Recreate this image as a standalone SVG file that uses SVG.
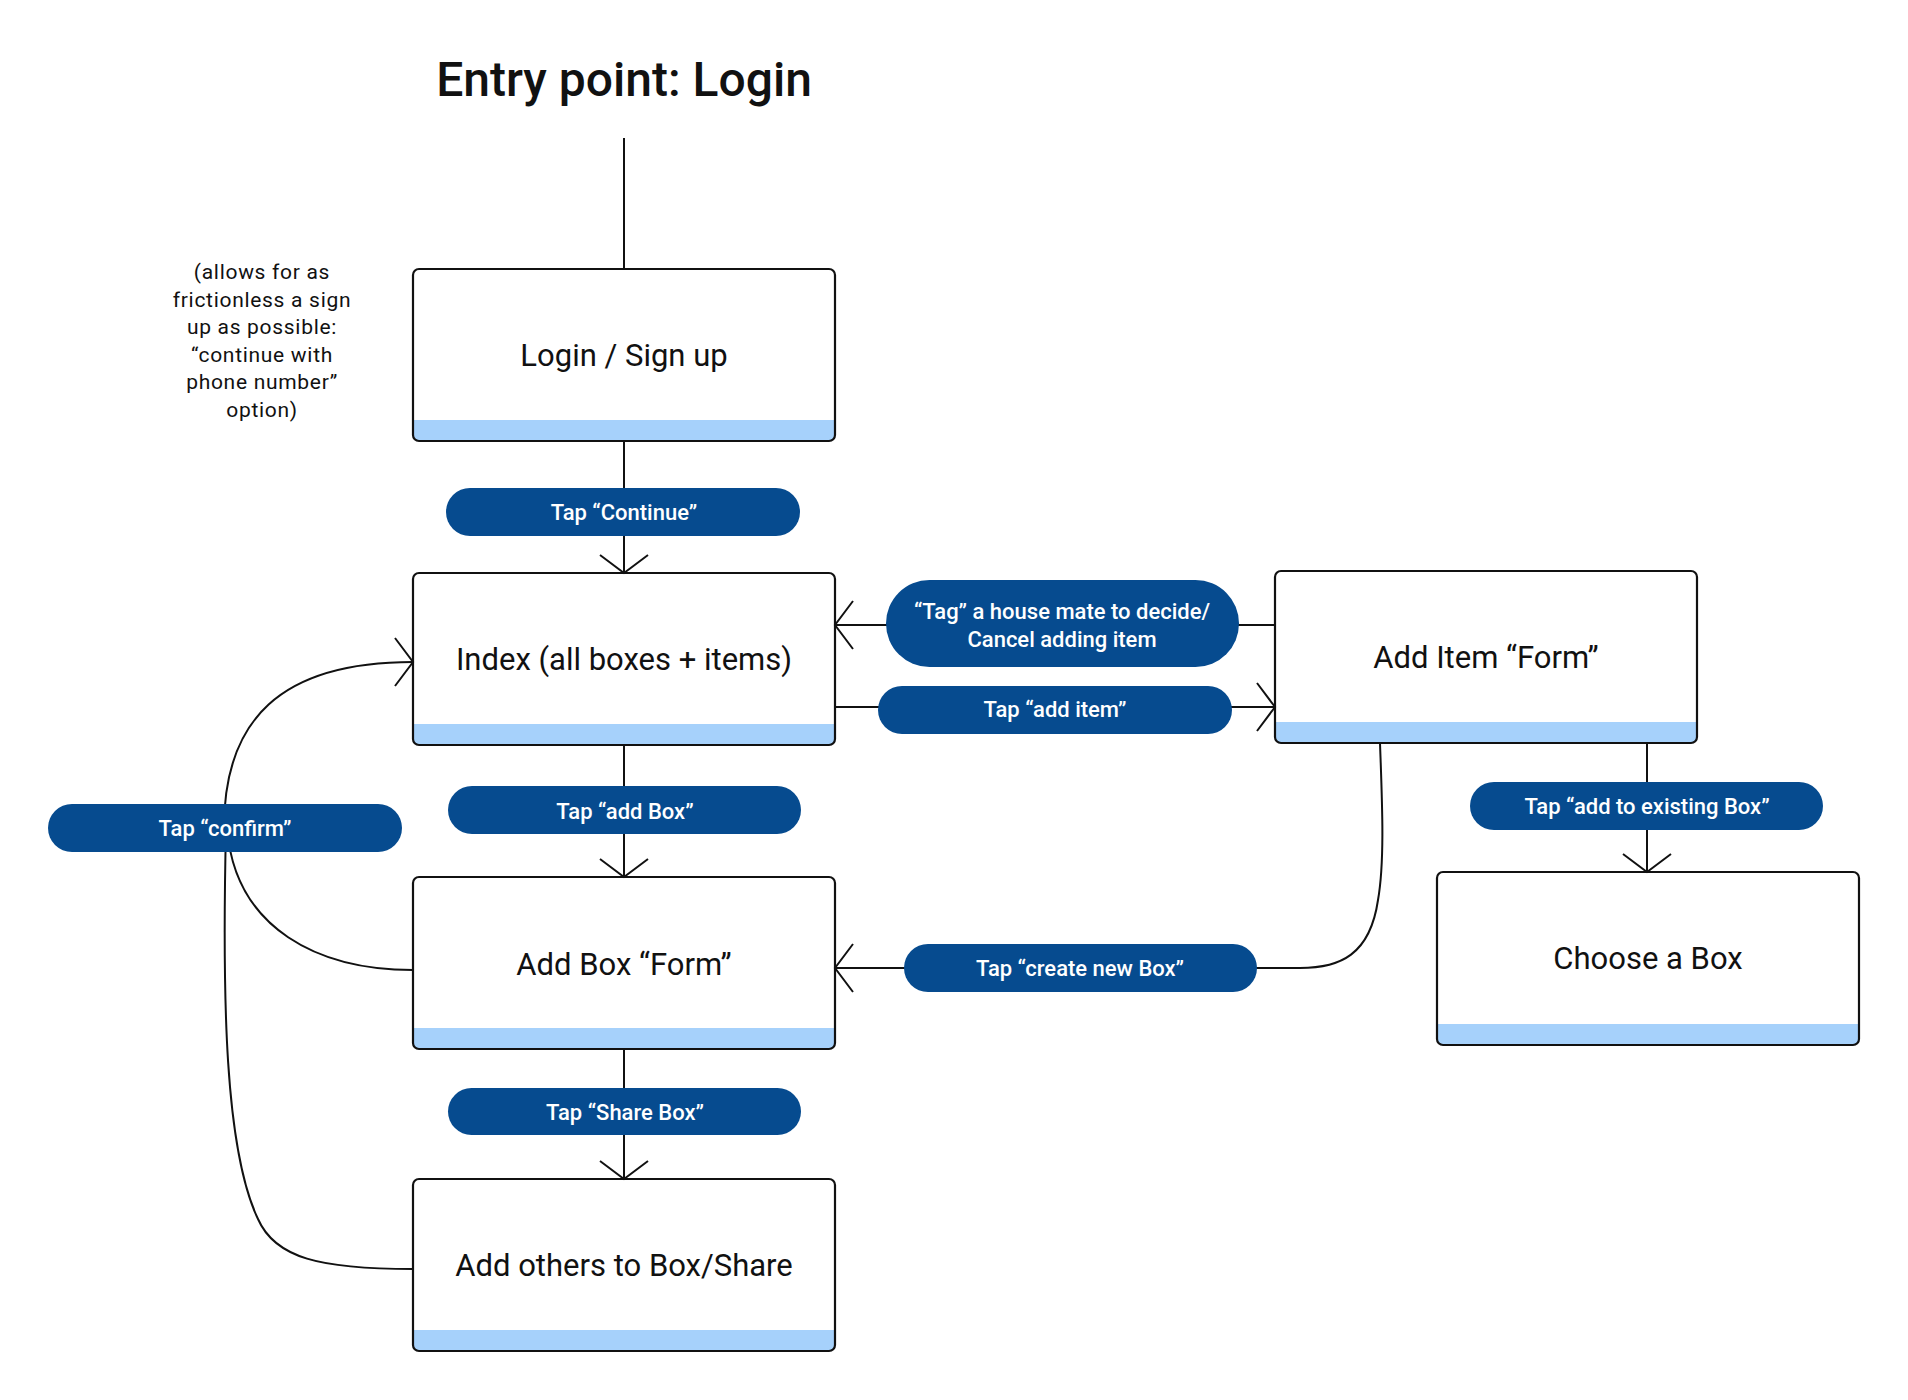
<svg xmlns="http://www.w3.org/2000/svg" width="1908" height="1400" viewBox="0 0 1908 1400">
  <defs>
    <style>
      .box { fill: #ffffff; stroke: none; }
      .frame { fill: none; stroke: #111111; stroke-width: 2.2; }
      .bar { fill: #a6d1fb; stroke: none; }
      .ntext { font-family: Roboto, "Liberation Sans", sans-serif; font-size: 31px; fill: #111111; text-anchor: middle; }
      .pill { fill: #064b8f; stroke: none; }
      .ptext { font-family: Roboto, "Liberation Sans", sans-serif; font-size: 22px; font-weight: 500; fill: #ffffff; text-anchor: middle; }
      .conn { fill: none; stroke: #111111; stroke-width: 2; }
      .note { font-family: Roboto, "Liberation Sans", sans-serif; font-size: 21px; fill: #111111; text-anchor: middle; letter-spacing: 0.7px; }
      .title { font-family: Roboto, "Liberation Sans", sans-serif; font-size: 48px; font-weight: 500; fill: #111111; text-anchor: middle; }
    </style>
    <marker id="arrow" markerUnits="userSpaceOnUse" viewBox="-22 -28 26 56" refX="0" refY="0" markerWidth="26" markerHeight="56" orient="auto" overflow="visible">
      <path d="M-18,-24 L0,0 L-18,24" fill="none" stroke="#111111" stroke-width="2"/>
    </marker>
  </defs>

  <rect x="0" y="0" width="1908" height="1400" fill="#ffffff"/>

  <text class="title" x="624" y="96">Entry point: Login</text>

  <g id="note">
    <text class="note" x="262" y="279">(allows for as</text>
    <text class="note" x="262" y="306.5">frictionless a sign</text>
    <text class="note" x="262" y="334">up as possible:</text>
    <text class="note" x="262" y="361.5">“continue with</text>
    <text class="note" x="262" y="389">phone number”</text>
    <text class="note" x="262" y="416.5">option)</text>
  </g>

  <g id="node-login">
    <rect class="box" x="413" y="269" width="422" height="172" rx="6"/>
    <path class="bar" d="M413,420 H835 V435 A6,6 0 0 1 829,441 H419 A6,6 0 0 1 413,435 Z"/>
    <rect class="frame" x="413" y="269" width="422" height="172" rx="6"/>
    <text class="ntext" x="624" y="366">Login / Sign up</text>
  </g>

  <g id="node-index">
    <rect class="box" x="413" y="573" width="422" height="172" rx="6"/>
    <path class="bar" d="M413,724 H835 V739 A6,6 0 0 1 829,745 H419 A6,6 0 0 1 413,739 Z"/>
    <rect class="frame" x="413" y="573" width="422" height="172" rx="6"/>
    <text class="ntext" x="624" y="670">Index (all boxes + items)</text>
  </g>

  <g id="node-addbox">
    <rect class="box" x="413" y="877" width="422" height="172" rx="6"/>
    <path class="bar" d="M413,1028 H835 V1043 A6,6 0 0 1 829,1049 H419 A6,6 0 0 1 413,1043 Z"/>
    <rect class="frame" x="413" y="877" width="422" height="172" rx="6"/>
    <text class="ntext" x="624" y="975">Add Box “Form”</text>
  </g>

  <g id="node-addothers">
    <rect class="box" x="413" y="1179" width="422" height="172" rx="6"/>
    <path class="bar" d="M413,1330 H835 V1345 A6,6 0 0 1 829,1351 H419 A6,6 0 0 1 413,1345 Z"/>
    <rect class="frame" x="413" y="1179" width="422" height="172" rx="6"/>
    <text class="ntext" x="624" y="1276">Add others to Box/Share</text>
  </g>

  <g id="node-additem">
    <rect class="box" x="1275" y="571" width="422" height="172" rx="6"/>
    <path class="bar" d="M1275,722 H1697 V737 A6,6 0 0 1 1691,743 H1281 A6,6 0 0 1 1275,737 Z"/>
    <rect class="frame" x="1275" y="571" width="422" height="172" rx="6"/>
    <text class="ntext" x="1486" y="668">Add Item “Form”</text>
  </g>

  <g id="node-choose">
    <rect class="box" x="1437" y="872" width="422" height="173" rx="6"/>
    <path class="bar" d="M1437,1024 H1859 V1039 A6,6 0 0 1 1853,1045 H1443 A6,6 0 0 1 1437,1039 Z"/>
    <rect class="frame" x="1437" y="872" width="422" height="173" rx="6"/>
    <text class="ntext" x="1648" y="969">Choose a Box</text>
  </g>

  <g id="connectors">
    <path class="conn" d="M624,138 V269"/>
    <path class="conn" d="M624,441 V573" marker-end="url(#arrow)"/>
    <path class="conn" d="M624,745 V877" marker-end="url(#arrow)"/>
    <path class="conn" d="M624,1049 V1179" marker-end="url(#arrow)"/>
    <path class="conn" d="M1275,625 H835" marker-end="url(#arrow)"/>
    <path class="conn" d="M835,707 H1275" marker-end="url(#arrow)"/>
    <path class="conn" d="M1647,743 V872" marker-end="url(#arrow)"/>
    <path class="conn" d="M1380,743 C1382,800 1385,860 1378,900 C1370,955 1340,968 1300,968 L835,968" marker-end="url(#arrow)"/>
    <path class="conn" d="M224,828 C224,720 280,662 413,662" marker-end="url(#arrow)"/>
    <path class="conn" d="M227,828 C235,930 320,970 413,970"/>
    <path class="conn" d="M226,828 C222,1000 225,1150 258,1219 C275,1258 320,1269 413,1269"/>
  </g>

  <g id="label-continue">
    <rect class="pill" x="446" y="488" width="354" height="48" rx="24"/>
    <text class="ptext" x="624" y="520">Tap “Continue”</text>
  </g>
  <g id="label-addbox">
    <rect class="pill" x="448" y="786" width="353" height="48" rx="24"/>
    <text class="ptext" x="625" y="818.5">Tap “add Box”</text>
  </g>
  <g id="label-share">
    <rect class="pill" x="448" y="1088" width="353" height="47" rx="23.5"/>
    <text class="ptext" x="625" y="1119.5">Tap “Share Box”</text>
  </g>
  <g id="label-confirm">
    <rect class="pill" x="48" y="804" width="354" height="48" rx="24"/>
    <text class="ptext" x="225" y="836">Tap “confirm”</text>
  </g>
  <g id="label-tag">
    <rect class="pill" x="886" y="580" width="353" height="87" rx="43.5"/>
    <text class="ptext" x="1062" y="619">“Tag” a house mate to decide/</text>
    <text class="ptext" x="1062" y="647">Cancel adding item</text>
  </g>
  <g id="label-additem">
    <rect class="pill" x="878" y="686" width="354" height="48" rx="24"/>
    <text class="ptext" x="1055" y="717">Tap “add item”</text>
  </g>
  <g id="label-createbox">
    <rect class="pill" x="904" y="944" width="353" height="48" rx="24"/>
    <text class="ptext" x="1080" y="976">Tap “create new Box”</text>
  </g>
  <g id="label-existing">
    <rect class="pill" x="1470" y="782" width="353" height="48" rx="24"/>
    <text class="ptext" x="1647" y="814">Tap “add to existing Box”</text>
  </g>
</svg>
